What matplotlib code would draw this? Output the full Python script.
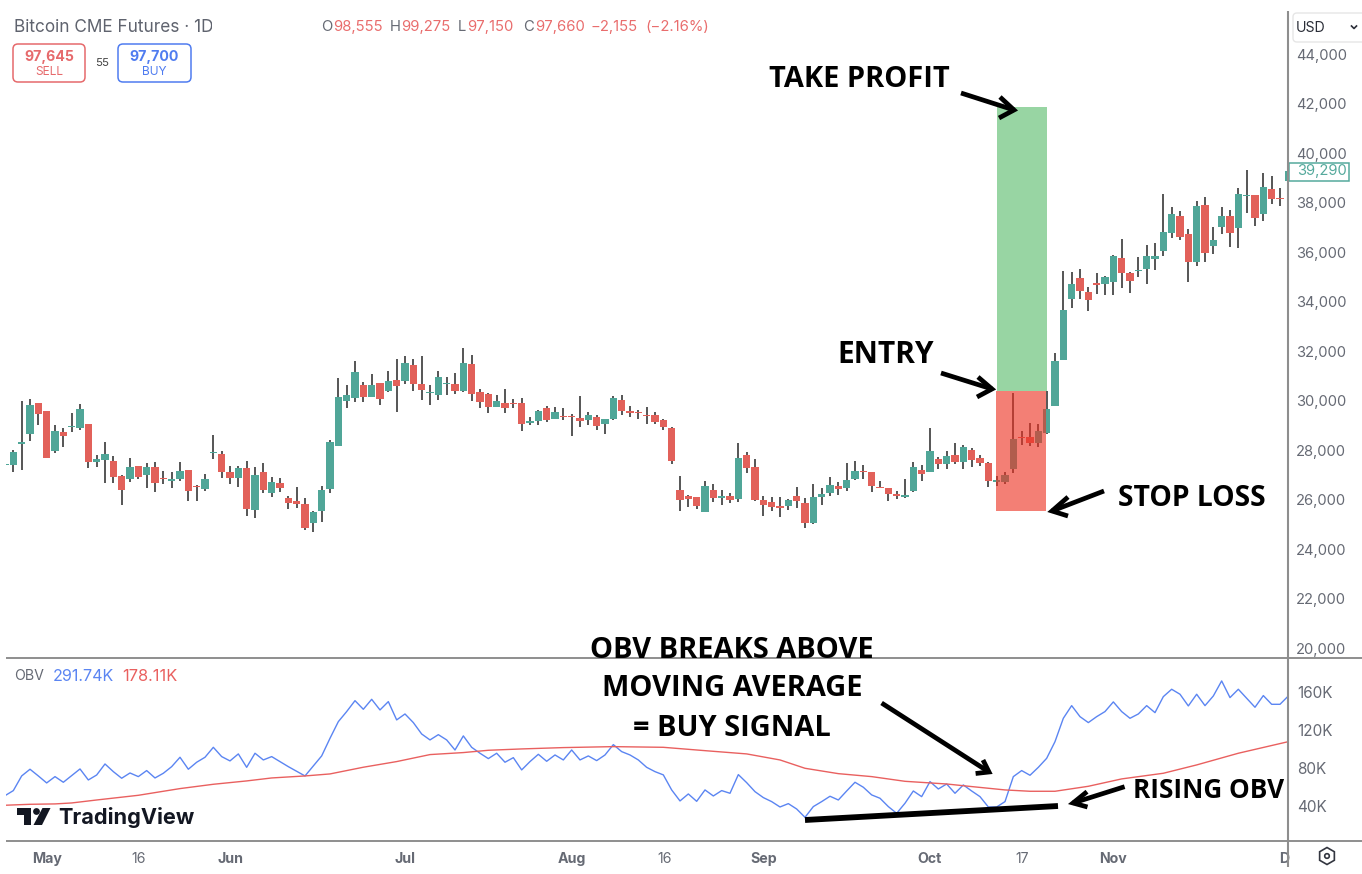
import matplotlib
matplotlib.use("Agg")
import matplotlib.pyplot as plt
from matplotlib.patches import Rectangle, FancyBboxPatch, Polygon, RegularPolygon, Circle
from matplotlib.ticker import FixedLocator, FixedFormatter
import numpy as np

# ---------- data ----------
opens = [27395,27395,28260,28660,29885,29565,27960,28715,28945,28875,29050,27515,27595,27555,26950,26830,27355,26990,27315,26870,
26760,26840,27195,26535,26440,27880,27840,27125,26885,27275,25590,27100,26265,26655,26075,25940,25805,25040,25535,26425,
28175,29970,30100,30630,30155,30710,30400,30815,30775,31420,30655,30320,30225,30655,30655,30385,31465,30360,30265,29740,
29900,29885,29900,29090,29175,29685,29265,29360,29360,29305,29225,29335,29065,29240,30010,29575,29535,29400,29400,29215,
28890,26400,26130,26090,25510,26400,26060,26145,26010,27785,27330,25980,25915,25725,25725,26145,25860,25050,26115,26250,
26560,26480,26830,27165,27100,26520,26450,26235,26090,26330,27195,27125,27625,27450,27785,27515,28015,27665,27490,26720,
26720,27220,28540,28510,28270,28675,29775,31635,34100,34950,34370,34735,34705,34800,35745,35150,35245,35325,35705,36055,
36770,37470,36740,35610,37900,36245,37025,37470,36970,38250,38315,37520,38535,38170,38880]
closes = [27420,27920,28320,29820,29455,27665,28755,28580,28985,29660,27530,27625,27840,26910,26370,27315,26910,27315,26680,26815,
26840,27165,26345,26490,26830,27920,27125,26870,27260,25605,26990,26370,26695,26465,25860,25805,24860,25510,26385,28310,
30155,30225,31140,30145,30630,30050,30775,30600,31530,30670,30440,30360,30935,30695,30385,31530,30265,29925,29740,29970,
29710,29845,29065,29160,29565,29215,29525,29320,29320,29175,29430,28970,29240,30090,29565,29485,29495,29360,29145,28915,
27545,25980,26035,25750,26535,26060,26130,25980,27690,27275,25980,25780,25710,25645,25995,25940,25040,26090,26235,26600,
26425,26790,27165,27100,26560,26465,26225,26155,26170,27330,27030,27975,27450,27760,27530,28110,27610,27465,26735,26775,
26990,28430,28470,28270,28780,29640,31610,33655,34705,34425,34060,34680,34975,35825,35165,34830,35285,35825,35825,36795,
37520,36620,35610,37860,35975,36470,37470,36780,38355,38290,37390,38615,38130,38130,39290]
highs = [27420,28000,29990,30050,29890,29580,29010,28875,29485,29845,29050,27785,28340,27760,27005,27665,27355,27460,27505,27165,
27100,27505,27195,26575,27030,28595,27975,27370,27370,27545,27300,27460,26895,26855,26140,26505,26075,25550,26545,28405,
30895,30630,31595,30735,31060,30720,31180,31665,31785,31665,31815,30630,31180,30935,31125,32110,31840,30450,30320,30210,
30450,30050,30090,29320,29630,29790,29750,29700,29455,30185,29550,29415,29240,30195,30225,29790,29615,29750,29550,29240,
28915,26935,26185,26115,26750,26630,26385,26275,28270,27920,27650,26155,26115,26090,26020,26495,26060,26630,26450,26895,
26720,27490,27555,27395,27125,26750,26465,26360,26845,27530,27380,28890,27730,27960,28270,28205,28070,27815,27530,26950,
27125,30315,28765,29075,29050,30395,31905,35220,35205,35315,34570,35140,35045,35880,36525,35205,35785,36295,36350,38345,
37830,37670,36930,38075,38235,36995,37820,37700,38575,39325,38315,39205,39060,38600,39500]
lows = [27380,27125,27210,28365,29010,27665,27890,28135,28715,28810,27260,27325,26680,26680,25780,26710,26830,26480,26315,26615,
26480,26760,25955,25925,26345,27650,26855,26615,26505,25335,25255,26275,26115,26315,25615,25655,24770,24700,25080,26250,
28175,29685,29940,29955,30145,29820,30360,29550,30680,30370,30010,29820,30020,30235,30265,30330,29980,29685,29485,29740,
29510,29685,28755,29010,29025,29120,29240,29215,28580,28915,29010,28810,28660,29200,29415,29350,29265,29050,29050,28810,
27435,25550,25710,25630,25510,25900,25790,25875,25915,27060,25955,25350,25525,25280,25575,25645,24865,25025,25780,26155,
26195,26360,26790,26815,26320,26450,25925,26010,26060,26320,26760,27110,27245,27235,27420,27245,27300,27355,26520,26545,
26615,27085,28190,28160,28135,28645,29775,31635,33725,34115,33615,34305,34265,34275,34545,34330,35005,34705,35275,35840,
36555,36470,34775,35450,35585,35905,36730,36200,36150,37565,37065,37265,37955,37845,38100]
obv = [51.3,56.6,71.9,78.9,71.9,64.6,71.2,65.3,72.2,79.2,67.7,72.9,84.4,76.4,69.5,75.0,71.2,77.5,69.8,74.7,
81.6,91.4,78.9,86.2,91.4,101.8,92.1,87.6,94.9,80.9,95.6,88.6,92.1,86.9,81.6,76.8,71.9,82.3,92.8,111.2,
128.6,139.1,150.5,141.5,151.9,140.8,149.5,130.4,136.6,127.6,115.7,109.5,115.0,109.5,99.0,113.7,101.8,95.6,90.0,95.6,
86.2,91.0,78.2,86.9,94.5,87.2,93.8,88.6,99.0,88.6,92.8,87.9,93.8,104.6,97.3,93.8,88.6,80.9,76.4,
73.0,57.3,45.8,53.1,45.4,57.3,51.0,56.6,53.8,73.3,64.9,55.5,49.3,45.1,39.5,43.0,37.4,28.7,39.9,45.1,
50.7,46.8,56.2,65.3,60.1,52.1,48.6,39.9,32.9,43.4,56.2,50.3,66.0,58.3,63.5,53.8,62.5,56.2,50.3,39.5,
39.5,45.1,71.2,77.5,72.6,80.9,90.3,107.7,132.1,145.3,133.8,127.6,133.8,139.1,149.2,139.1,132.1,136.6,145.3,138.0,
154.7,162.4,157.2,145.0,157.2,145.3,155.4,171.1,153.7,162.4,153.0,143.6,155.8,146.7,146.7,155.4]
ma_days = [0,3,6,8,11,16,21,25,29,32,36,39,43,47,51,55,58,62,67,73,79,84,89,93,96,100,104,108,113,116,120,123,126,130,134,139,143,148,154]
ma_vals = [41.3,42.3,42.7,43.7,46.8,51.7,58.7,63.2,66.7,69.8,71.9,74.0,81.0,86.9,94.2,96.3,98.7,100.1,101.5,102.5,101.8,98.3,94.9,88.6,79.9,74.3,71.2,66.3,63.5,60.8,57.3,55.9,55.9,61.1,68.8,74.7,83.4,95.6,107.7]

price_ticks = [20000,22000,24000,26000,28000,30000,32000,34000,36000,38000,40000,42000,44000]
obv_ticks = [40,80,120,160]
date_days = [5,16,27.1,48,68,79.2,91,111,122,133,153.5]
date_labels = ["May","16","Jun","Jul","Aug","16","Sep","Oct","17","Nov","D"]
date_bold = ["May","Jun","Jul","Aug","Sep","Oct","Nov","D"]
tp_price, entry_price, stop_price = 41860, 30385, 25540
last_price = 39290

TEAL, RED, WICK = "#50a698", "#e2615a", "#2f2f2f"
FRAME, AXTXT = "#8e8e8e", "#666a74"
BLUE = "#5b85f2"
F = ["Inter", "DejaVu Sans"]
HEAD = ["Open Sans", "DejaVu Sans"]

W, H = 1362, 874
fig = plt.figure(figsize=(W/100, H/100), dpi=100, facecolor="white")
def axpx(x0, y0, x1, y1, **k):
    return fig.add_axes([x0/W, 1-y1/H, (x1-x0)/W, (y1-y0)/H], **k)

px2day = lambda px: (px-5)/8.3333
L, R = 6, 1287
ax = axpx(L, 12, R, 657.5)
ob = axpx(L, 657.5, R, 841)
for a in (ax, ob):
    a.set_xlim(px2day(L), px2day(R))
    for s in a.spines.values():
        s.set_visible(False)
    a.patch.set_alpha(0)
ax.set_ylim(44000-(657.5-54)*40.404, 44000+(54-12)*40.404)
ob.set_ylim(40+(806.5-841)*1.044, 40+(806.5-657.5)*1.044)

# ---------- candles ----------
days = np.arange(len(opens))
o, c, hi, lo = map(np.array, (opens, closes, highs, lows))
cols = [TEAL if a >= b else RED for a, b in zip(c, o)]
ax.vlines(days, lo, hi, color=WICK, lw=1.15, zorder=2)
ax.bar(days, np.maximum(np.abs(c-o), 40), bottom=np.minimum(o, c), width=0.88, color=cols, zorder=3, linewidth=0)

# ---------- trade zones ----------
ax.add_patch(Rectangle((px2day(997), entry_price), 6.0, tp_price-entry_price, color="#98d5a3", lw=0, zorder=4))
ax.add_patch(Rectangle((px2day(996), stop_price), 5.98, entry_price-stop_price, facecolor="#ed3020", alpha=0.62, lw=0, zorder=5))

ax.yaxis.tick_right()
ax.yaxis.set_major_locator(FixedLocator(price_ticks))
ax.yaxis.set_major_formatter(FixedFormatter([f"{v:,}" for v in price_ticks]))
ax.tick_params(axis="y", length=0, pad=6.4, labelsize=10.6, labelcolor=AXTXT)
ax.tick_params(axis="x", length=0, labelbottom=False)
for t in ax.get_yticklabels():
    t.set_fontfamily(F)

# ---------- OBV ----------
ob.plot(days, obv, color=BLUE, lw=1.0, zorder=3)
ob.plot(ma_days, ma_vals, color="#e9605f", lw=1.0, zorder=3)
ob.yaxis.tick_right()
ob.yaxis.set_major_locator(FixedLocator(obv_ticks))
ob.yaxis.set_major_formatter(FixedFormatter([f"{v}K" for v in obv_ticks]))
ob.tick_params(axis="y", length=0, pad=7.6, labelsize=11.0, labelcolor=AXTXT)
ob.set_xticks(date_days)
ob.set_xticklabels(date_labels)
ob.tick_params(axis="x", length=0, pad=8, labelsize=10.2, labelcolor=AXTXT)
for t in ob.get_yticklabels():
    t.set_fontfamily(F)
for t, lab in zip(ob.get_xticklabels(), date_labels):
    t.set_fontfamily(F)
    if lab in date_bold:
        t.set_fontweight("bold")

# ---------- overlay in pixels ----------
ov = fig.add_axes([0, 0, 1, 1], zorder=10)
ov.set_xlim(0, W); ov.set_ylim(H, 0); ov.axis("off"); ov.patch.set_alpha(0)

ov.plot([L, W], [657.5, 657.5], color=FRAME, lw=1.4, solid_capstyle="butt")
ov.plot([L, W], [841, 841], color=FRAME, lw=1.4, solid_capstyle="butt")
ov.plot([1287.5, 1287.5], [11, 867], color=FRAME, lw=1.5, solid_capstyle="butt")

def txt(x, y, s, color="#111111", size=11, weight="normal", ha="left", fam=F, **k):
    return ov.text(x, y, s, color=color, fontsize=size, fontweight=weight, ha=ha, va="center", fontfamily=fam, **k)

# header
txt(14, 27, "Bitcoin CME Futures · 1D", "#5f636e", 12.4, clip_on=True)
ov.add_patch(Rectangle((212, 14), 30, 24, color="white", lw=0, zorder=3))
HR = "#e96d6d"
for x, s, col in [(321,"O","#666a74"),(333,"98,555",HR),(390,"H","#666a74"),(401,"99,275",HR),(458,"L","#666a74"),
                  (467,"97,150",HR),(523,"C","#666a74"),(535,"97,660",HR),(591,"−2,155",HR),(645,"(−2.16%)",HR)]:
    txt(x, 27, s, col, 10.7)

for x0, x1, col, a, b in [(13,85,"#e66a6c","97,645","SELL"),(118,191,"#4f7cf0","97,700","BUY")]:
    ov.add_patch(FancyBboxPatch((x0+4, 48), x1-x0-8, 30, boxstyle="round,pad=4,rounding_size=5", fc="white", ec=col, lw=1.1))
    txt((x0+x1)/2, 57, a, col, 10.2, "bold", ha="center")
    txt((x0+x1)/2, 72, b, col, 8.6, ha="center")
txt(95, 63, "55", "#444444", 8.2)

# OBV legend
txt(14, 676.5, "OBV", "#666a74", 10.2)
txt(53, 676.5, "291.74K", BLUE, 11.6)
txt(122, 676.5, "178.11K", "#e9605f", 11.8)

# TradingView logo
LOGO = "#131722"
ov.add_patch(Polygon([(17,808),(30.5,808),(30.5,825),(23.5,825),(23.5,815),(17,815)], color=LOGO, lw=0))
ov.add_patch(Circle((36.5, 811.5), 3.4, color=LOGO, lw=0))
ov.add_patch(Polygon([(42.5,808),(50.5,808),(42,825),(33.5,825)], color=LOGO, lw=0))
txt(58.5, 817, "TradingView", LOGO, 15.6, "bold")

# price flag
ov.add_patch(Rectangle((1288.5, 162.5), 60.5, 18.5, fc="white", ec="#55a99c", lw=1.1))
txt(1297, 171.5, f"{last_price:,}", "#55a99c", 10.6)

# USD box + gear
ov.add_patch(FancyBboxPatch((1296, 16), 70, 23, boxstyle="round,pad=3,rounding_size=4", fc="white", ec="#e6e6e6", lw=1, clip_on=True))
txt(1296, 27.5, "USD", "#2b2e38", 10.2)
ov.plot([1351.5, 1354, 1356.5], [26, 28.5, 26], color="#2b2e38", lw=1.2)
ov.add_patch(RegularPolygon((1327, 856), 6, radius=8.5, fc="none", ec="#333640", lw=1.2))
ov.add_patch(Circle((1327, 856), 2.3, fc="none", ec="#333640", lw=1.2))

# annotations
def seg(pts, lw=3.4):
    xs, ys = zip(*pts)
    ov.plot(xs, ys, color="black", lw=lw, solid_capstyle="butt", solid_joinstyle="miter", zorder=12)

def arrow(a, tip, b1, b2, lw=3.4):
    seg([a, tip], lw)
    seg([b1, tip, b2], lw)

arrow((961,93),(1014,110),(1000,97),(999,118))
arrow((941,373),(992,389),(978,377),(977,397))
arrow((1104,491),(1052,511),(1068,497),(1068,516))
arrow((881.6,703),(989,772),(983,760),(975.6,773.5))
arrow((1124.6,786.7),(1073,803),(1087,791.7),(1087.5,807))
seg([(805,820),(1058,806)], 4.2)

for x, y, s, size in [(859.5,79.5,"TAKE PROFIT",20.9),(886,355,"ENTRY",21.5),(1191.5,498,"STOP LOSS",20.3),(732,650.5,"OBV BREAKS ABOVE",20.9),
                (732.5,688.5,"MOVING AVERAGE",20.9),(732,728,"= BUY SIGNAL",20.9),(1208.5,790,"RISING OBV",18.8)]:
    txt(x, y, s, "black", size, "bold", ha="center", fam=HEAD, zorder=13)

fig.savefig("out.png", dpi=100)
